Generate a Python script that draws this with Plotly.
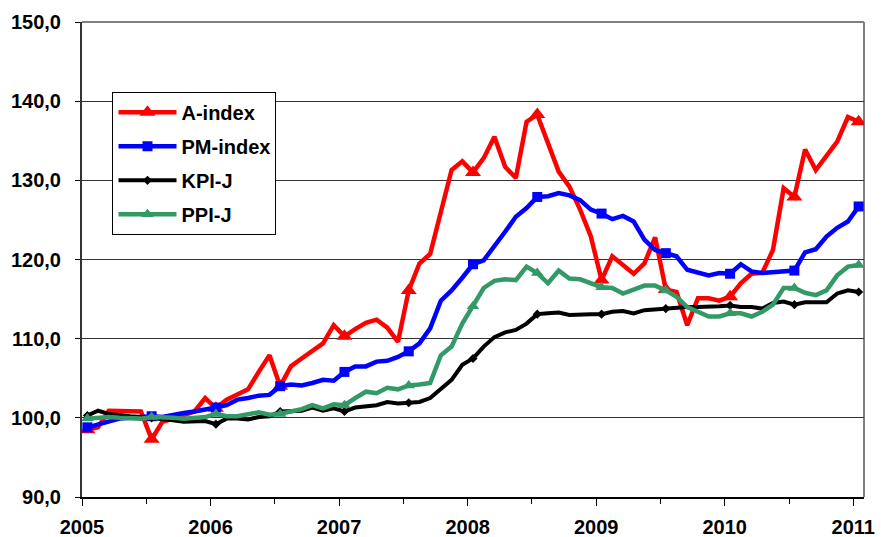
import plotly.graph_objects as go

months = [f"{y}-{m:02d}" for y in range(2005, 2011) for m in range(1, 13)] + ["2011-01"]

a_index = [98.5, 98.8, 100.9, 100.9, 100.8, 100.8, 97.3, 99.5, 99.9, 100.4, 100.8, 102.5,
           101.2, 102.3, 103.0, 103.6, 105.8, 107.9, 104.0, 106.5, 107.5, 108.4, 109.4, 111.7,
           110.3, 111.2, 112.0, 112.4, 111.4, 109.6, 116.1, 119.5, 120.7, 126.0, 131.3, 132.4,
           131.0, 132.8, 135.5, 131.7, 130.3, 137.4, 138.3, 134.7, 131.1, 129.2, 126.3, 122.9,
           117.4, 120.4, 119.3, 118.2, 119.5, 122.8, 116.2, 115.9, 111.7, 115.1, 115.1, 114.8,
           115.3, 117.0, 118.2, 118.3, 121.2, 129.0, 127.9, 133.9, 131.3, 133.2, 134.9, 138.0,
           137.4]
pm_index = [98.8, 99.2, 99.6, 99.9, 100.0, 100.1, 100.2, 100.1, 100.4, 100.6, 100.8, 101.0,
            101.3, 101.6, 102.3, 102.5, 102.8, 102.9, 104.0, 104.2, 104.1, 104.4, 104.8, 104.7,
            105.8, 106.5, 106.5, 107.1, 107.2, 107.7, 108.4, 109.4, 111.3, 114.8, 116.1, 117.7,
            119.4, 119.9, 121.6, 123.5, 125.4, 126.5, 127.9, 128.0, 128.4, 128.1, 127.5, 126.3,
            125.8, 125.1, 125.5, 124.8, 122.5, 121.2, 120.8, 120.4, 118.7, 118.3, 118.0, 118.3,
            118.2, 119.4, 118.5, 118.3, 118.4, 118.5, 118.6, 120.9, 121.3, 122.9, 124.0, 124.8,
            126.7]
kpi_j = [100.3, 100.9, 100.5, 100.3, 100.2, 100.1, 100.0, 99.8, 99.7, 99.5, 99.6, 99.6,
         99.2, 99.9, 99.9, 99.8, 100.1, 100.2, 100.8, 100.8, 100.9, 101.3, 100.9, 101.2,
         100.8, 101.3, 101.5, 101.6, 102.0, 101.8, 101.9, 102.0, 102.5, 103.7, 104.8, 106.7,
         107.5, 109.0, 110.2, 110.8, 111.1, 111.9, 113.1, 113.2, 113.3, 113.0, 113.1, 113.1,
         113.1, 113.4, 113.5, 113.2, 113.6, 113.7, 113.8, 114.0, 114.0, 114.0, 114.0, 114.1,
         114.2, 114.0, 114.0, 113.8, 114.5, 114.7, 114.3, 114.6, 114.6, 114.6, 115.7, 116.1,
         115.9]
ppi_j = [99.9, 100.0, 100.1, 100.0, 99.9, 99.9, 100.1, 100.1, 100.0, 99.9, 100.0, 100.1,
         100.5, 100.2, 100.2, 100.4, 100.7, 100.4, 100.5, 100.8, 101.1, 101.6, 101.2, 101.7,
         101.6, 102.5, 103.3, 103.1, 103.8, 103.6, 104.1, 104.2, 104.4, 107.9, 109.0, 111.9,
         114.1, 116.4, 117.3, 117.5, 117.4, 119.1, 118.3, 117.0, 118.6, 117.6, 117.5, 117.0,
         116.5, 116.4, 115.7, 116.2, 116.7, 116.7, 116.1, 115.3, 114.0, 113.4, 112.8, 112.8,
         113.2, 113.2, 112.8, 113.4, 114.3, 116.4, 116.4, 115.8, 115.5, 116.1, 118.0, 119.1,
         119.3]

year_labels = ["2005", "2006", "2007", "2008", "2009", "2010", "2011"]
y_ticks = [90, 100, 110, 120, 130, 140, 150]

x = list(range(len(months)))
FONT = "Arial, Liberation Sans, sans-serif"
FS = 20

series = [
    ("A-index", a_index, "#FF0000", "triangle-up", 14, 4.5),
    ("PM-index", pm_index, "#0000FF", "square", 10, 4.5),
    ("KPI-J", kpi_j, "#000000", "diamond", 7, 4),
    ("PPI-J", ppi_j, "#339966", "triangle-up", 11, 4.5),
]

fig = go.Figure()
for name, vals, col, sym, ms, lw in series:
    mcolors = [col if i % 6 == 0 else "rgba(0,0,0,0)" for i in range(len(vals))]
    fig.add_trace(go.Scatter(
        x=x, y=vals, name=name, mode="lines+markers", legendgroup=name,
        line=dict(color=col, width=lw),
        marker=dict(symbol=sym, size=ms, color=mcolors, line=dict(width=0)),
        customdata=months, hovertemplate="%{customdata}: %{y:.1f}<extra>" + name + "</extra>",
    ))

fig.update_layout(
    width=881, height=537,
    margin=dict(l=82, r=17, t=22, b=40),
    paper_bgcolor="white", plot_bgcolor="white",
    font=dict(family=FONT, size=FS, color="black", weight="bold"),
    separators=", ",
    showlegend=True,
    legend=dict(
        x=0.039, y=0.853, xanchor="left", yanchor="top",
        bgcolor="white", bordercolor="black", borderwidth=1,
        font=dict(family=FONT, size=FS, color="black", weight="bold"),
        traceorder="grouped", tracegroupgap=5, itemwidth=58,
    ),
    xaxis=dict(
        range=[-0.5, len(months) - 0.5],
        automargin=False,
        tickmode="array",
        tickvals=[-0.5 + 12 * i for i in range(len(year_labels))],
        ticktext=year_labels,
        ticks="outside", ticklen=7, tickcolor="black", tickwidth=1,
        minor=dict(tickmode="linear", tick0=5.5, dtick=12, ticks="outside", ticklen=5,
                   tickcolor="black", showgrid=False),
        showgrid=False, zeroline=False,
        showline=True, linecolor="black", linewidth=2,
        ticklabelstandoff=4,
        tickfont=dict(family=FONT, size=FS, color="black", weight="bold"),
    ),
    yaxis=dict(
        range=[90, 150],
        automargin=False,
        tickmode="array", tickvals=y_ticks,
        tickformat=".1f",
        ticks="outside", ticklen=5, tickcolor="black",
        showgrid=True, gridcolor="#333333", gridwidth=1,
        zeroline=False,
        showline=True, linecolor="#333333", linewidth=2,
        ticklabelstandoff=10,
        tickfont=dict(family=FONT, size=FS, color="black", weight="bold"),
    ),
    shapes=[
        dict(type="line", xref="paper", yref="paper", x0=0, x1=1, y0=1, y1=1,
             line=dict(color="#808080", width=2), layer="below"),
        dict(type="line", xref="paper", yref="paper", x0=1, x1=1, y0=0, y1=1,
             line=dict(color="#808080", width=2), layer="below"),
    ],
)

fig.write_html("out.html", config={"displayModeBar": False},
               post_script="document.body.style.margin='0';")
